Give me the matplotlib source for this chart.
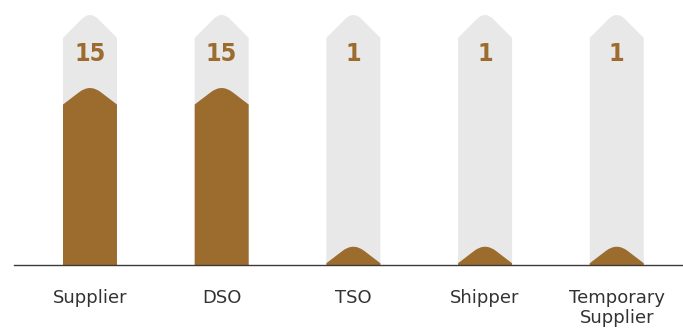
import numpy as np
import matplotlib
matplotlib.use('Agg')
import matplotlib.pyplot as plt
from matplotlib.path import Path
from matplotlib.patches import PathPatch

categories = ['Supplier', 'DSO', 'TSO', 'Shipper', 'Temporary\nSupplier']
values = [15, 15, 1, 1, 1]

brown = '#9c6b2e'
track = '#e8e8e8'
track_top = 21.2     # height of the grey "pencil" behind every bar
shoulder = 1.95      # height of the grey pointed tip
hump = 1.4           # height of the rounded top on the brown fill
min_fill = 1.55
bar_w = 0.41


def tip_shape(c, w, top, tip, r=0.35, base=0.0):
    # column with a pointed, rounded top; apex of the curve sits at `top`
    x0, x1 = c - w / 2, c + w / 2
    s = top - tip
    lx = c - r * w / 2
    rx = c + r * w / 2
    # slope is chosen so that the rounded apex reaches `top`
    k = tip / (w / 2 * (1 - r) + r * w / 4)
    ly = s + k * (w / 2) * (1 - r)
    cy = 2 * top - ly
    verts = [(x0, base), (x0, s), (lx, ly), (c, cy), (rx, ly), (x1, s),
             (x1, base), (x0, base)]
    codes = [Path.MOVETO, Path.LINETO, Path.LINETO, Path.CURVE3, Path.CURVE3,
             Path.LINETO, Path.LINETO, Path.CLOSEPOLY]
    return Path(verts, codes)


fig = plt.figure(figsize=(6.83, 3.31), dpi=100)
ax = fig.add_axes([14 / 683, 66 / 331, 669 / 683, 265 / 331])

x = np.arange(len(categories))
for i, v in enumerate(values):
    ax.add_patch(PathPatch(tip_shape(x[i], bar_w, track_top, shoulder, r=0.3),
                           facecolor=track, edgecolor='none', zorder=1))
    total = max(v, min_fill)
    ax.add_patch(PathPatch(tip_shape(x[i], bar_w, total, hump, r=0.4),
                           facecolor=brown, edgecolor='none', zorder=2))
    ax.text(x[i], 17.9, str(v), ha='center', va='center', fontsize=18,
            fontweight='bold', fontstretch='condensed', family='DejaVu Sans',
            color=brown, zorder=3)

ax.set_xlim(-0.577, 4.503)
ax.set_ylim(0, 22.46)
ax.set_xticks(x)
ax.set_xticklabels(categories, fontsize=13, color='#333333', linespacing=1.15)
ax.tick_params(axis='x', length=0, pad=17)
ax.set_yticks([])
for side in ['top', 'left', 'right']:
    ax.spines[side].set_visible(False)
ax.spines['bottom'].set_color('#3a3a3a')
ax.spines['bottom'].set_linewidth(1.0)
ax.spines['bottom'].set_zorder(4)

fig.savefig('out.png', dpi=100)
